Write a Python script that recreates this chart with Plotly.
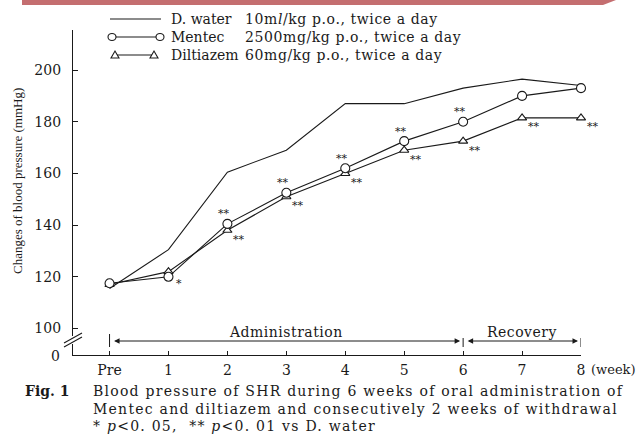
import plotly.graph_objects as go

# ---------------- data ----------------
weeks = [0, 1, 2, 3, 4, 5, 6, 7, 8]
week_labels = ["Pre", "1", "2", "3", "4", "5", "6", "7", "8"]
d_water = [115.5, 130.5, 160.5, 169, 187, 187, 193, 196.5, 194]
mentec = [117.5, 120, 140.5, 152.5, 162, 172.5, 180, 190, 193]
diltiazem = [117, 122, 138, 151, 160, 169, 172.5, 181.5, 181.5]
mentec_sig = ["", "*", "**", "**", "**", "**", "**", "", ""]
diltiazem_sig = ["", "", "**", "**", "**", "**", "**", "**", "**"]
y_tick_vals = [100, 120, 140, 160, 180, 200]
y_tick_text = ["100", "120", "140", "160", "180", "200"]
y_zero_label = "0"

# ---------------- geometry helpers ----------------
W, H = 638, 437
L, R, T, B = 73, 581, 30, 355  # plot area in pixels
Y0 = 89.75  # value drawn at the (broken) zero line
YTOP = 215.5
XMIN, XMAX = -0.62, 8.0


def px(x):
    return (x - L) / (R - L)


def py(y):
    return (B - y) / (B - T)


def yval(pix):
    return Y0 + (B - pix) / (B - T) * (YTOP - Y0)


def spaced(t, s):
    return '<span style="letter-spacing:{}px">{}</span>'.format(s, t)


SERIF = "DejaVu Serif"
INK = "#1a1a1a"

fig = go.Figure()

fig.add_trace(go.Scatter(x=weeks, y=d_water, mode="lines",
                         line=dict(color=INK, width=1.1), cliponaxis=False,
                         name="D. water"))
fig.add_trace(go.Scatter(x=weeks, y=diltiazem, mode="lines+markers",
                         line=dict(color=INK, width=1.1),
                         marker=dict(symbol="triangle-up", size=8, color="white",
                                     line=dict(color=INK, width=1.1)),
                         cliponaxis=False, name="Diltiazem"))
fig.add_trace(go.Scatter(x=weeks, y=mentec, mode="lines+markers",
                         line=dict(color=INK, width=1.1),
                         marker=dict(symbol="circle", size=9, color="white",
                                     line=dict(color=INK, width=1.1)),
                         cliponaxis=False, name="Mentec"))

ann = []
shapes = []

# significance marks
for x, y, s in zip(weeks, mentec, mentec_sig):
    if not s:
        continue
    if s == "*":
        ann.append(dict(x=x, y=y, xref="x", yref="y", text=s, showarrow=False,
                        xshift=11, yshift=-7, font=dict(family=SERIF, size=11, color=INK)))
    else:
        ann.append(dict(x=x, y=y, xref="x", yref="y", text=s, showarrow=False,
                        xshift=-3, yshift=10, font=dict(family=SERIF, size=11, color=INK)))
for x, y, s in zip(weeks, diltiazem, diltiazem_sig):
    if not s:
        continue
    ann.append(dict(x=x, y=y, xref="x", yref="y", text=s, showarrow=False,
                    xshift=12, yshift=-9, font=dict(family=SERIF, size=11, color=INK)))

# y zero label and axis break
ann.append(dict(x=px(62), y=py(356), xref="paper", yref="paper", text=y_zero_label,
                showarrow=False, xanchor="right", yanchor="middle",
                font=dict(family=SERIF, size=14, color=INK)))
shapes.append(dict(type="rect", xref="paper", yref="paper", x0=px(70), x1=px(77),
                   y0=py(344), y1=py(336), fillcolor="white", line=dict(width=0),
                   layer="above"))
for off in (0, 4):
    shapes.append(dict(type="line", xref="paper", yref="paper",
                       x0=px(64), y0=py(343 + off), x1=px(82), y1=py(333 + off),
                       line=dict(color=INK, width=1.1), layer="above"))

# administration / recovery brackets
arrow_y = yval(341)
for xb, dash in ((0, "solid"), (6, "dash"), (8, "dash")):
    shapes.append(dict(type="line", xref="x", yref="paper", x0=xb, x1=xb,
                       y0=py(347), y1=py(334), line=dict(color=INK, width=1, dash=dash)))
for x0, x1 in ((0, 6), (6, 8)):
    ann.append(dict(x=x1, y=arrow_y, ax=x0, ay=arrow_y, xref="x", yref="y",
                    axref="x", ayref="y", text="", showarrow=True,
                    arrowside="end+start", arrowhead=2, startarrowhead=2,
                    arrowsize=1.1, startarrowsize=1.1, arrowwidth=1,
                    standoff=3, startstandoff=3, arrowcolor=INK))
ann.append(dict(x=3, y=py(332), xref="x", yref="paper", text=spaced("Administration", 0.5),
                showarrow=False, xanchor="center", yanchor="middle",
                font=dict(family=SERIF, size=14, color=INK)))
ann.append(dict(x=7, y=py(332), xref="x", yref="paper", text=spaced("Recovery", 0.5),
                showarrow=False, xanchor="center", yanchor="middle",
                font=dict(family=SERIF, size=14, color=INK)))
ann.append(dict(x=px(589), y=py(369), xref="paper", yref="paper", text="(week)",
                showarrow=False, xanchor="left", yanchor="middle",
                font=dict(family=SERIF, size=13, color=INK)))

# y title
ann.append(dict(x=px(17), y=py(181), xref="paper", yref="paper",
                text="Changes of blood pressure (mmHg)", textangle=-90, showarrow=False,
                xanchor="center", yanchor="middle",
                font=dict(family="Liberation Serif", size=13, color=INK)))

# manual legend
leg_font = dict(family=SERIF, size=14, color=INK)
rows = [(19, "D. water", "10m<i>l</i>/kg p.o., twice a day"),
        (37, "Mentec", "2500mg/kg p.o., twice a day"),
        (55, "Diltiazem", "60mg/kg p.o., twice a day")]
for yy, nm, dose in rows:
    ann.append(dict(x=px(169), y=py(yy), xref="paper", yref="paper", text=nm,
                    showarrow=False, xanchor="left", yanchor="middle", font=leg_font))
    ann.append(dict(x=px(243), y=py(yy), xref="paper", yref="paper", text=spaced(dose, 0.6),
                    showarrow=False, xanchor="left", yanchor="middle", font=leg_font))
shapes.append(dict(type="line", xref="paper", yref="paper", x0=px(110), x1=px(161),
                   y0=py(19), y1=py(19), line=dict(color=INK, width=1.1)))
shapes.append(dict(type="line", xref="paper", yref="paper", x0=px(112), x1=px(160),
                   y0=py(37), y1=py(37), line=dict(color=INK, width=1.1)))
for cx in (112, 160):
    shapes.append(dict(type="circle", xref="paper", yref="paper",
                       x0=px(cx - 4), x1=px(cx + 4), y0=py(37 + 3.5), y1=py(37 - 3.5),
                       fillcolor="white", line=dict(color=INK, width=1.1)))
shapes.append(dict(type="line", xref="paper", yref="paper", x0=px(115), x1=px(154),
                   y0=py(55), y1=py(55), line=dict(color=INK, width=1.1)))
for cx in (115, 154):
    path = "M {} {} L {} {} L {} {} Z".format(px(cx - 4), py(58), px(cx + 4), py(58),
                                               px(cx), py(51))
    shapes.append(dict(type="path", xref="paper", yref="paper", path=path,
                       fillcolor="white", line=dict(color=INK, width=1.1)))

# decorative banner at the top
banner = "M {} {} L {} {} L {} {} L {} {} Z".format(px(22), py(0), px(616), py(0),
                                                   px(603), py(5), px(22), py(5))
shapes.append(dict(type="path", xref="paper", yref="paper", path=banner,
                   fillcolor="#c46e70", line=dict(width=0)))

# caption
cap_font = dict(family=SERIF, size=14, color=INK)
ann.append(dict(x=px(23), y=py(391), xref="paper", yref="paper", text="<b>Fig. 1</b>",
                showarrow=False, xanchor="left", yanchor="middle", font=cap_font))
caption = ["Blood pressure of SHR during 6 weeks of oral administration of",
           "Mentec and diltiazem and consecutively 2 weeks of withdrawal",
           "* <i>p</i>&lt;0. 05,  ** <i>p</i>&lt;0. 01 vs D. water"]
for yy, t in zip((391, 409, 426), caption):
    ann.append(dict(x=px(91), y=py(yy), xref="paper", yref="paper", text=spaced(t, 1.25),
                    showarrow=False, xanchor="left", yanchor="middle", font=cap_font))

fig.update_layout(
    width=W, height=H,
    margin=dict(l=L, r=W - R, t=T, b=H - B, pad=0),
    plot_bgcolor="white", paper_bgcolor="white",
    showlegend=False,
    annotations=ann, shapes=shapes,
    xaxis=dict(range=[XMIN, XMAX], tickvals=weeks, ticktext=week_labels,
               showline=True, linecolor=INK, linewidth=1.2, ticks="inside",
               ticklen=4, tickcolor=INK, showgrid=False, zeroline=False,
               tickfont=dict(family=SERIF, size=14, color=INK), ticklabelstandoff=2),
    yaxis=dict(range=[Y0, YTOP], tickvals=y_tick_vals, ticktext=y_tick_text,
               showline=True, linecolor=INK, linewidth=1.2, ticks="inside",
               ticklen=5, tickcolor=INK, showgrid=False, zeroline=False,
               tickfont=dict(family=SERIF, size=14, color=INK), ticklabelstandoff=8),
)

fig.write_html("out.html", config={"displayModeBar": False},
               post_script="document.body.style.margin='0';document.body.style.padding='0';")
